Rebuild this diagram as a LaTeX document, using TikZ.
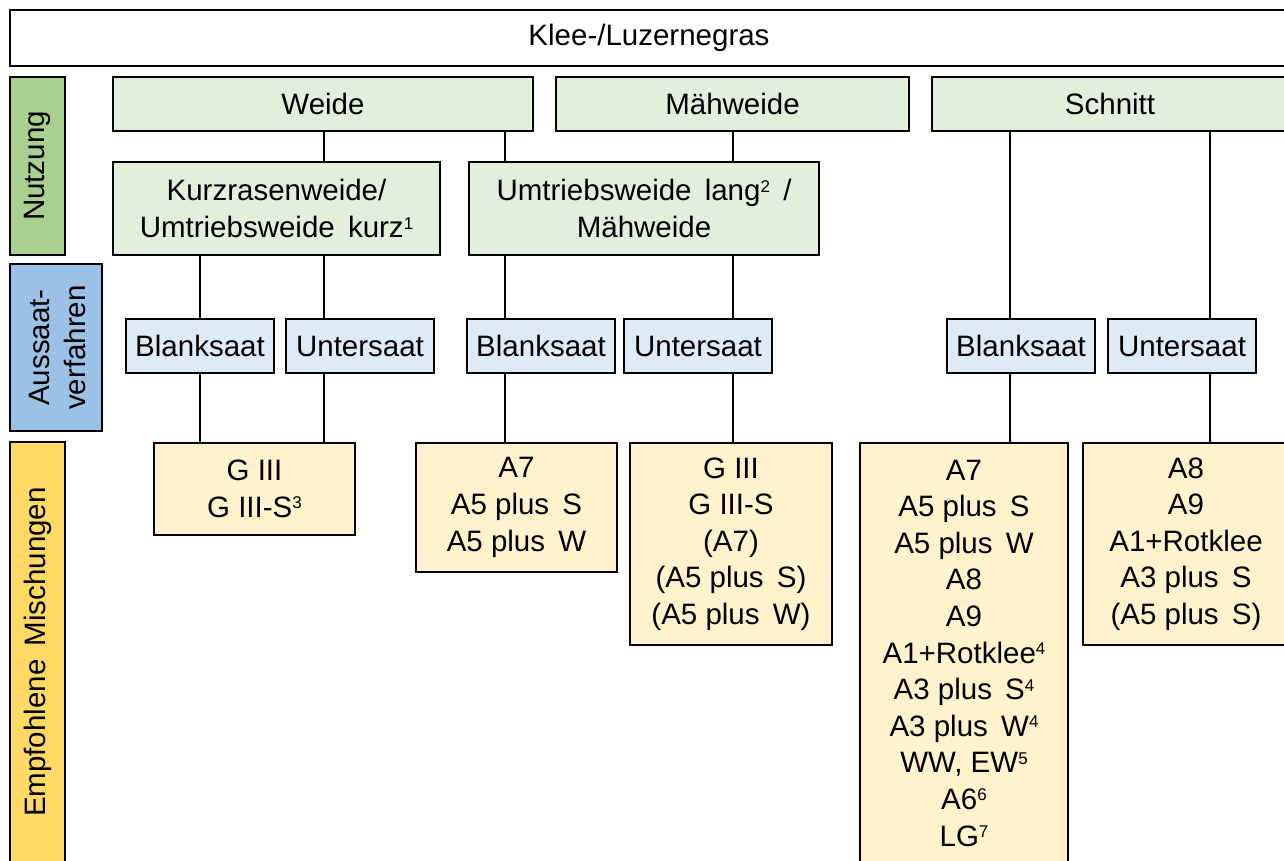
\documentclass[tikz,border=0pt]{standalone}
\usepackage{fontspec}
\setmainfont{Liberation Sans}
\definecolor{gfill}{HTML}{E2EFDA}
\definecolor{gside}{HTML}{A9D08E}
\definecolor{bfill}{HTML}{DDEBF7}
\definecolor{bside}{HTML}{9BC2E6}
\definecolor{yfill}{HTML}{FFF2CC}
\definecolor{yside}{HTML}{FFD966}
\newcommand{\ws}{\hspace{5pt}}
\newcommand{\supx}[1]{\raisebox{8.5pt}{\fontsize{17}{17}\selectfont #1}}
\tikzset{
  bx/.style={draw=black, line width=2pt, inner sep=0pt, outer sep=0pt, align=center,
    font=\fontsize{29.5}{37}\selectfont},
  whitebox/.style={bx, fill=white},
  gbox/.style={bx, fill=gfill},
  bbox/.style={bx, fill=bfill},
  ybox/.style={bx, fill=yfill, font=\fontsize{29.5}{36.6}\selectfont},
  sidetext/.style={rotate=90, align=center, font=\fontsize{29.5}{36}\selectfont},
  conn/.style={line width=2.6pt, draw=black}
}
\begin{document}
\begin{tikzpicture}[x=1pt,y=-1pt]
\useasboundingbox (0,0) rectangle (1284,860);
\clip (0,0) rectangle (1284,860);
% top
\node[whitebox, minimum width=1278, minimum height=56] (top) at (649,38) {Klee-/Luzernegras};
% side labels
\node[bx, fill=gside, line width=2.4pt, minimum width=55, minimum height=178] (nutz) at (37.5,166) {};
\node[sidetext] (nutzt) at (nutz.center) {Nutzung};
\node[bx, fill=bside, line width=2.4pt, minimum width=92, minimum height=167] (auss) at (56,347.5) {};
\node[sidetext] (ausst) at ([xshift=1.5pt]auss.center) {Aussaat-\\verfahren};
\node[bx, fill=yside, line width=2.4pt, minimum width=55, minimum height=420] (empf) at (37.5,652) {};
\node[sidetext] (empft) at (empf.center) {Empfohlene\ws{} Mischungen};
% level 1
\node[gbox, minimum width=420, minimum height=54] (weide) at (323,104) {Weide};
\node[gbox, minimum width=353, minimum height=54] (maeh) at (732.5,104) {Mähweide};
\node[gbox, minimum width=356, minimum height=54] (schn) at (1110,104) {Schnitt};
% level 2
\node[gbox, minimum width=327, minimum height=93] (kurz) at (276.5,208.5) {Kurzrasenweide/\\Umtriebsweide\ws{} kurz\supx{1}};
\node[gbox, minimum width=350, minimum height=93] (umtr) at (644,208.5) {Umtriebsweide\ws{} lang\supx{2}\ws{} /\\Mähweide};
% level 3
\node[bbox, minimum width=148, minimum height=54] (bl1) at (200,346) {Blanksaat};
\node[bbox, minimum width=148, minimum height=54] (un1) at (360,346) {Untersaat};
\node[bbox, minimum width=148, minimum height=54] (bl2) at (541,346) {Blanksaat};
\node[bbox, minimum width=148, minimum height=54] (un2) at (698,346) {Untersaat};
\node[bbox, minimum width=148, minimum height=54] (bl3) at (1021,346) {Blanksaat};
\node[bbox, minimum width=148, minimum height=54] (un3) at (1182,346) {Untersaat};
% level 4
\node[ybox, minimum width=201, minimum height=92] (m1) at (254.5,489) {G III\\G III-S\supx{3}};
\node[ybox, minimum width=201, minimum height=129] (m2) at (516.5,507.5) {A7\\A5 plus\ws{} S\\A5 plus\ws{} W};
\node[ybox, minimum width=202, minimum height=202] (m3) at (731,544) {G III\\G III-S\\(A7)\\(A5 plus\ws{} S)\\(A5 plus\ws{} W)};
\node[ybox, minimum width=208, minimum height=420] (m4) at (964,653) {A7\\A5 plus\ws{} S\\A5 plus\ws{} W\\A8\\A9\\A1+Rotklee\supx{4}\\A3 plus\ws{} S\supx{4}\\A3 plus\ws{} W\supx{4}\\WW, EW\supx{5}\\A6\supx{6}\\LG\supx{7}};
\node[ybox, minimum width=206, minimum height=202] (m5) at (1186,544) {A8\\A9\\A1+Rotklee\\A3 plus\ws{} S\\(A5 plus\ws{} S)};
% connector x positions
\coordinate (xa) at (200,0);
\coordinate (xb) at (324,0);
\coordinate (xc) at (505,0);
\coordinate (xd) at (733,0);
\coordinate (xe) at (1010,0);
\coordinate (xf) at (1210,0);
% connectors
\draw[conn] (weide.south -| xb) -- (kurz.north -| xb);
\draw[conn] (weide.south -| xc) -- (umtr.north -| xc);
\draw[conn] (maeh.south -| xd) -- (umtr.north -| xd);
\draw[conn] (kurz.south -| xa) -- (bl1.north -| xa);
\draw[conn] (kurz.south -| xb) -- (un1.north -| xb);
\draw[conn] (umtr.south -| xc) -- (bl2.north -| xc);
\draw[conn] (umtr.south -| xd) -- (un2.north -| xd);
\draw[conn] (schn.south -| xe) -- (bl3.north -| xe);
\draw[conn] (schn.south -| xf) -- (un3.north -| xf);
\draw[conn] (bl1.south -| xa) -- (m1.north -| xa);
\draw[conn] (un1.south -| xb) -- (m1.north -| xb);
\draw[conn] (bl2.south -| xc) -- (m2.north -| xc);
\draw[conn] (un2.south -| xd) -- (m3.north -| xd);
\draw[conn] (bl3.south -| xe) -- (m4.north -| xe);
\draw[conn] (un3.south -| xf) -- (m5.north -| xf);
\end{tikzpicture}
\end{document}
